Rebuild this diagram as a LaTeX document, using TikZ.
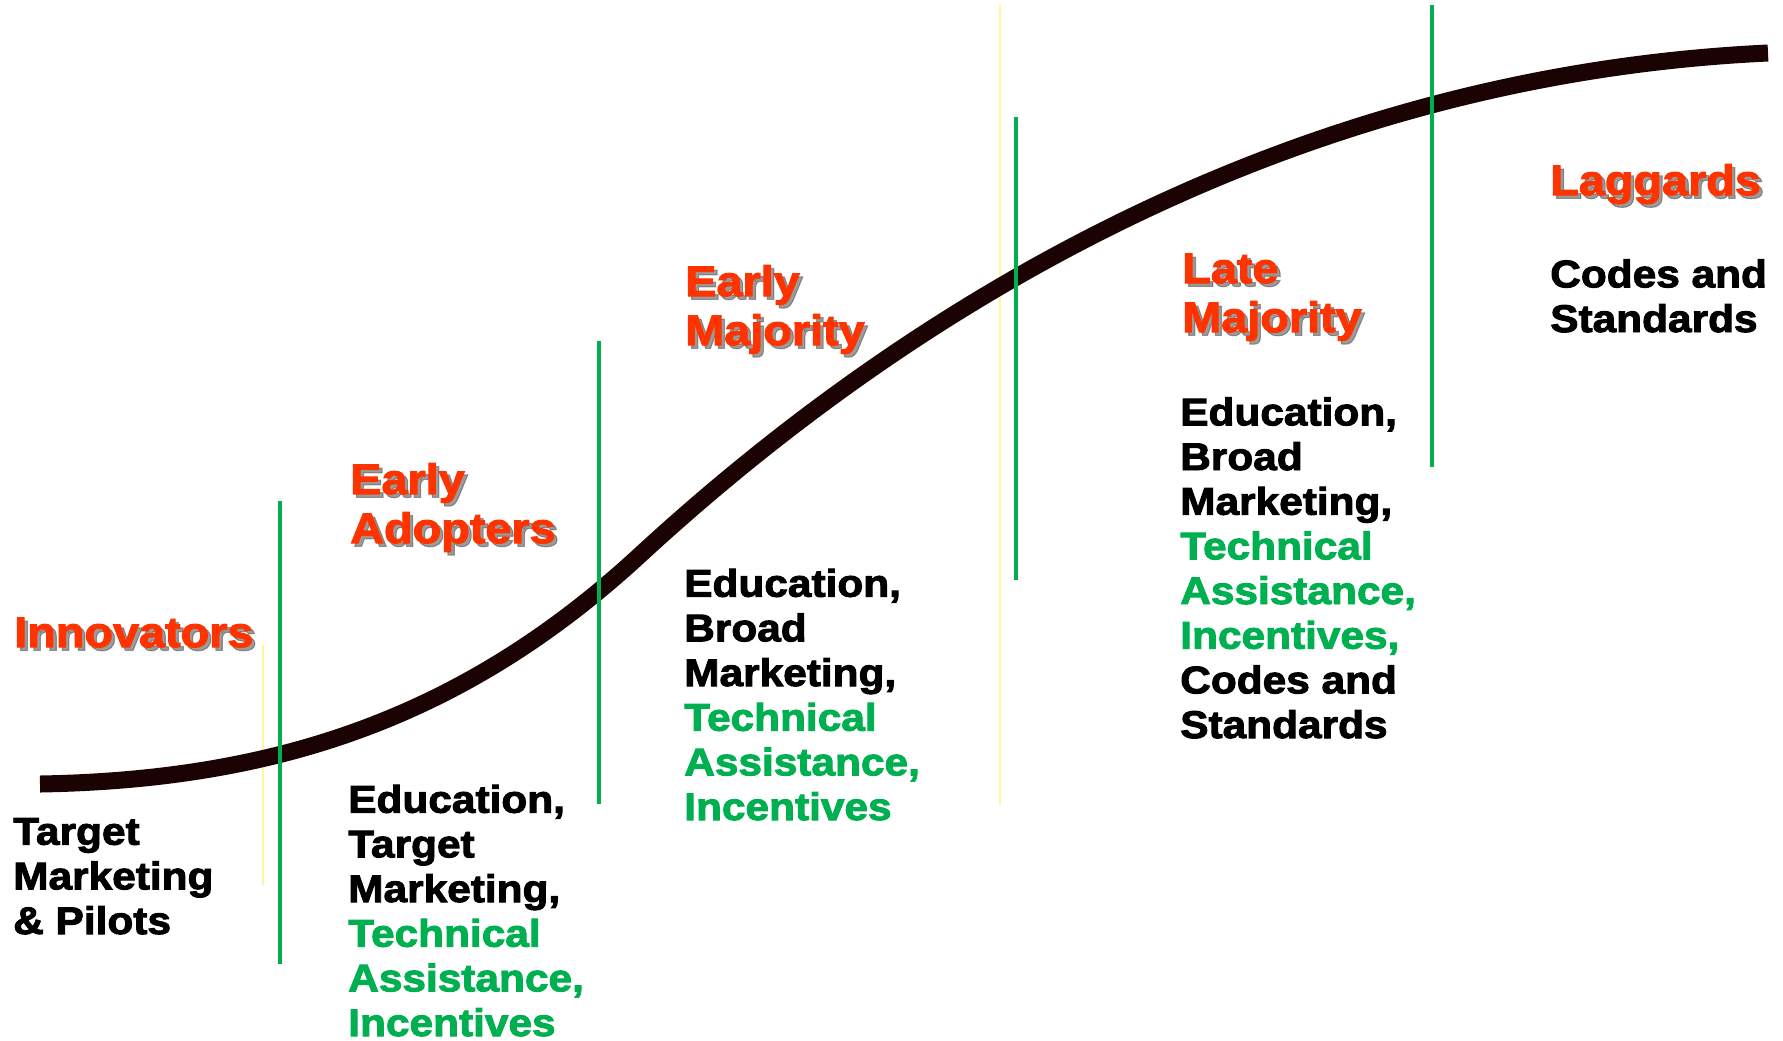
\documentclass[tikz,border=0pt]{standalone}
\usepackage{fontspec}
\setmainfont{Liberation Sans}
\newfontfamily\heavyfont{Liberation Sans Bold}[FakeStretch=1.1,FakeBold=2.5]
\definecolor{curvebrown}{HTML}{1C0303}
\definecolor{stagered}{HTML}{FF3300}
\definecolor{stagegreen}{HTML}{00B050}
\definecolor{paleyellow}{HTML}{FFF7A0}
\newcommand\tagreen[1]{\textcolor{stagegreen}{#1}}
\begin{document}
\begin{tikzpicture}[x=0.75pt,y=-0.75pt,
    stagename/.style={anchor=base west,inner sep=0pt,align=left,text=stagered,
      font=\heavyfont\fontsize{31.9}{36.75}\selectfont},
    stageshadow/.style={stagename,text=black!65,opacity=0.6,xshift=2.5pt,yshift=-2.5pt},
    stagetext/.style={anchor=base west,inner sep=0pt,align=left,
      font=\heavyfont\fontsize{28.9}{33.5}\selectfont},
    divider/.style={stagegreen,line width=2.6pt},
    guide/.style={paleyellow,line width=1.5pt}]
    \useasboundingbox (0,0) rectangle (1783,1040);

    % 辅助线
    \draw[guide] (263,645) -- (263,885);
    \draw[guide] (1000,5) -- (1000,804);

    % S 曲线
    \coordinate (S0) at (40,784);
    \coordinate (S1) at (640,555);
    \coordinate (S2) at (1768,53);
    \draw[curvebrown,line width=12.75pt] (S0) .. controls (270,780) and (460,721) .. (S1)
      .. controls (920,297) and (1300,75) .. (S2);

    % 分界线
    \draw[divider] (280,501) -- (280,964);
    \draw[divider] (599,341) -- (599,804);
    \draw[divider] (1016,117) -- (1016,580);
    \draw[divider] (1432,5) -- (1432,467);

    % 阶段名称 (基线取最后一行)
    \node[stageshadow] (innovsh) at (14,647) {Innovators};
    \node[stagename] (innov) at (14,647) {Innovators};
    \node[stageshadow] (adoptsh) at (350,543) {Early\\Adopters};
    \node[stagename] (adopt) at (350,543) {Early\\Adopters};
    \node[stageshadow] (earlymajsh) at (685,345) {Early\\Majority};
    \node[stagename] (earlymaj) at (685,345) {Early\\Majority};
    \node[stageshadow] (latemajsh) at (1182,332) {Late\\Majority};
    \node[stagename] (latemaj) at (1182,332) {Late\\Majority};
    \node[stageshadow] (lagsh) at (1550,195) {Laggards};
    \node[stagename] (lag) at (1550,195) {Laggards};

    % 措施
    \node[stagetext] (innovtxt) at (13,934) {Target\\Marketing\\\& Pilots};
    \node[stagetext] (adopttxt) at (348,1036) {Education,\\Target\\Marketing,\\
      \tagreen{Technical}\\\tagreen{Assistance,}\\\tagreen{Incentives}};
    \node[stagetext] (earlymajtxt) at (684,820) {Education,\\Broad\\Marketing,\\
      \tagreen{Technical}\\\tagreen{Assistance,}\\\tagreen{Incentives}};
    \node[stagetext] (latemajtxt) at (1180,738) {Education,\\Broad\\Marketing,\\
      \tagreen{Technical}\\\tagreen{Assistance,}\\\tagreen{Incentives,}\\Codes and\\Standards};
    \node[stagetext] (lagtxt) at (1550,332) {Codes and\\Standards};

\end{tikzpicture}
\end{document}
